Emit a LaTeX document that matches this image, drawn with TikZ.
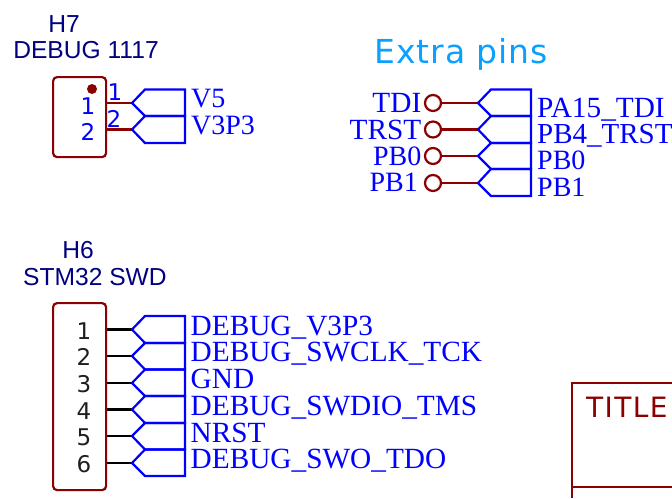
\documentclass[tikz,border=0pt]{standalone}
\usepackage{xcolor}
\usepackage{fontspec}
\setmainfont{Liberation Serif}
\newfontfamily\ArialFam{Liberation Sans}
\newfontfamily\DejaFam{DejaVu Sans}
\newfontfamily\NoteFam[LetterSpace=3]{DejaVu Sans}
\newfontfamily\TitleFam[LetterSpace=5]{DejaVu Sans}
\definecolor{ColWire}{RGB}{139,0,0}
\definecolor{ColNet}{RGB}{0,0,255}
\definecolor{ColHead}{RGB}{0,0,128}
\definecolor{ColNote}{RGB}{10,160,255}
\definecolor{ColNum}{RGB}{30,30,30}
\usetikzlibrary{positioning}
\tikzstyle{Box}=[draw=ColWire,line width=2.2pt,rounded corners=4pt,minimum width=53pt,inner sep=0pt,anchor=north west]
\tikzstyle{WireRed}=[draw=ColWire,line width=2.2pt]
\tikzstyle{WireBlack}=[draw=black,line width=2.2pt]
\tikzstyle{Port}=[draw=ColNet,line width=2.2pt,line join=miter]
\tikzstyle{Stub}=[circle,draw=ColWire,line width=2.2pt,minimum size=16pt,inner sep=0pt]
\tikzstyle{NetR}=[inner sep=0pt,anchor=base west,yshift=-1pt,text=ColNet,font=\fontsize{29.3}{29}\selectfont]
\tikzstyle{NetL}=[inner sep=0pt,anchor=base east,yshift=-1pt,text=ColNet,font=\fontsize{29.3}{29}\selectfont]
\tikzstyle{NetShort}=[font=\fontsize{28}{28}\selectfont]
\tikzstyle{Head}=[inner sep=0pt,anchor=base,text=ColHead,font=\ArialFam\fontsize{24.6}{25}\selectfont]
\tikzstyle{PinIn}=[inner sep=0pt,anchor=base,text=ColNet,font=\DejaFam\fontsize{23}{23}\selectfont]
\tikzstyle{PinNum}=[inner sep=0pt,anchor=base,text=ColNum,font=\DejaFam\fontsize{23}{23}\selectfont]
\newcommand{\PortAt}[4]{\draw[Port](#1,#3)--(#1+13,#2)--(#1+53,#2)--(#1+53,#4)--(#1+13,#4)--cycle;}
\begin{document}
\begin{tikzpicture}[x=1pt,y=-1pt]
        \useasboundingbox(0,0)rectangle(672,498);
        % H7
        \node[Head](H7)at(64,32){H7};
        \node[Head](H7val)at(86,58){DEBUG 1117};
        \node[Box,minimum height=80pt](H7box)at(52,76){};
        \fill[ColWire](92,89)circle(5);
        \node[PinIn](H7n1)at(88,114){1};
        \node[PinIn](H7n2)at(88,140){2};
        \node[PinIn](H7m1)at(115,100){1};
        \node[PinIn](H7m2)at(114,127){2};
        \coordinate(H7t1)at(132,103);
        \coordinate(H7t2)at(132,129.5);
        \draw[WireRed](H7box.east|-H7t1)--(H7t1);
        \draw[WireRed](H7box.east|-H7t2)--(H7t2);
        \PortAt{132}{89.5}{103}{116}
        \PortAt{132}{116}{129.5}{143}
        \node[NetR,NetShort](V5)at(191,106.5){V5};
        \node[NetR,NetShort](V3P3)at(191,133){V3P3};
        % extra pins
        \node[inner sep=0pt,anchor=base west,text=ColNote,font=\NoteFam\fontsize{33}{33}\selectfont](note)at(374,63){Extra pins};
        \node[Stub](s1)at(433,103){};
        \node[Stub](s2)at(433,129.5){};
        \node[Stub](s3)at(433,156){};
        \node[Stub](s4)at(433,183){};
        \coordinate(x1)at(478,103);
        \coordinate(x2)at(478,129.5);
        \coordinate(x3)at(478,156);
        \coordinate(x4)at(478,183);
        \draw[WireRed](s1)--(x1);
        \draw[WireRed](s2)--(x2);
        \draw[WireRed](s3)--(x3);
        \draw[WireRed](s4)--(x4);
        \PortAt{478}{89.5}{103}{116}
        \PortAt{478}{116}{129.5}{143}
        \PortAt{478}{143}{156}{169}
        \PortAt{478}{169}{183}{196}
        \node[NetL](TDI)at(421.5,111.5){TDI};
        \node[NetL](TRST)at(421.5,138){TRST};
        \node[NetL,NetShort](PB0l)at(421.5,164.5){PB0};
        \node[NetL,NetShort](PB1l)at(418,190.5){PB1};
        \node[NetR](PA15)at(537,116){PA15\_TDI};
        \node[NetR,font=\fontsize{29}{29}\selectfont](PB4)at(537,142){PB4\_TRST};
        \node[NetR,NetShort](PB0r)at(537,168.5){PB0};
        \node[NetR,NetShort](PB1r)at(537,195){PB1};
        % H6
        \node[Head](H6)at(78,258){H6};
        \node[Head](H6val)at(95,285){STM32 SWD};
        \node[Box,minimum height=187pt](H6box)at(52,302){};
        \node[PinNum](n1)at(84,339){1};
        \node[PinNum](n2)at(84,365.5){2};
        \node[PinNum](n3)at(84,392){3};
        \node[PinNum](n4)at(84,419){4};
        \node[PinNum](n5)at(84,445.5){5};
        \node[PinNum](n6)at(84,472){6};
        \coordinate(t1)at(132,329.5);
        \coordinate(t2)at(132,356);
        \coordinate(t3)at(132,383);
        \coordinate(t4)at(132,409.5);
        \coordinate(t5)at(132,436);
        \coordinate(t6)at(132,463);
        \draw[WireBlack](H6box.east|-t1)--(t1);
        \draw[WireBlack](H6box.east|-t2)--(t2);
        \draw[WireBlack](H6box.east|-t3)--(t3);
        \draw[WireBlack](H6box.east|-t4)--(t4);
        \draw[WireBlack](H6box.east|-t5)--(t5);
        \draw[WireBlack](H6box.east|-t6)--(t6);
        \PortAt{132}{316}{329.5}{343}
        \PortAt{132}{343}{356}{369.5}
        \PortAt{132}{369.5}{383}{396}
        \PortAt{132}{396}{409.5}{423}
        \PortAt{132}{423}{436}{449.5}
        \PortAt{132}{449.5}{463}{476}
        \node[NetR](D1)at(190.5,334){DEBUG\_V3P3};
        \node[NetR](D2)at(190.5,360.5){DEBUG\_SWCLK\_TCK};
        \node[NetR](D3)at(190.5,387.5){GND};
        \node[NetR](D4)at(190.5,414){DEBUG\_SWDIO\_TMS};
        \node[NetR](D5)at(190.5,441){NRST};
        \node[NetR](D6)at(190.5,467.5){DEBUG\_SWO\_TDO};
        % title block
        \draw[WireRed](672,383)--(572,383)--(572,498);
        \draw[WireRed](572,487)--(672,487);
        \node[inner sep=0pt,anchor=base west,text=ColWire,font=\TitleFam\fontsize{28}{28}\selectfont](title)at(586,417){TITLE};
\end{tikzpicture}
\end{document}
